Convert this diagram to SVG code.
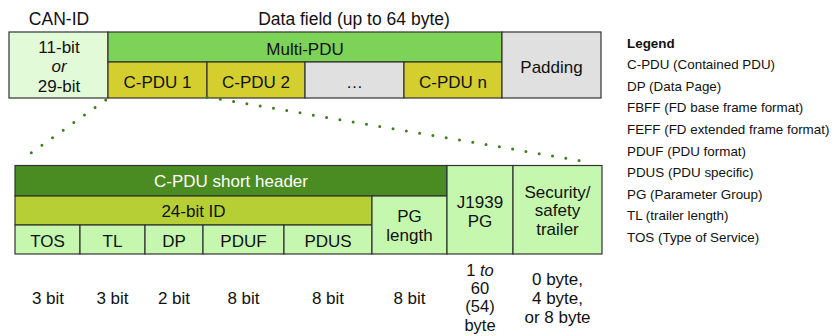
<svg xmlns="http://www.w3.org/2000/svg" width="839" height="336" viewBox="0 0 839 336">
<style>
text{font-family:"Liberation Sans",Arial,sans-serif;fill:#111}
.t{font-size:17px;text-anchor:middle}
.s{font-size:16.5px}
.lg{font-size:13.4px}
.b{stroke:#333;stroke-width:1.2}
.dot{fill:none;stroke:#3d7d1e;stroke-width:3;stroke-linecap:round}
</style>
<rect width="839" height="336" fill="#fff"/>
<g id="labels">
<text class="t" x="59" y="25" style="font-size:17.5px">CAN-ID</text>
<text class="t" x="354" y="25" style="font-size:17.5px">Data field (up to 64 byte)</text>
</g>
<g id="can-id"><rect class="b" x="9" y="32" width="99" height="66" fill="#e3fad9"/>
<text class="t" x="59" y="53">11-bit</text><text class="t" x="59" y="72" font-style="italic">or</text><text class="t" x="59" y="92">29-bit</text></g>
<g id="multi-pdu"><rect class="b" x="108" y="32" width="394" height="30" fill="#7dd258"/><text class="t" x="305" y="55">Multi-PDU</text></g>
<g id="cpdu1"><rect class="b" x="108" y="62" width="99" height="36" fill="#d4cf2f"/><text class="t" x="157.5" y="88">C-PDU 1</text></g>
<g id="cpdu2"><rect class="b" x="207" y="62" width="98" height="36" fill="#d4cf2f"/><text class="t" x="256" y="88">C-PDU 2</text></g>
<g id="ellipsis"><rect class="b" x="305" y="62" width="99" height="36" fill="#e0e0e0"/><text class="t" x="354.5" y="88">…</text></g>
<g id="cpdun"><rect class="b" x="404" y="62" width="98" height="36" fill="#d4cf2f"/><text class="t" x="453" y="88">C-PDU n</text></g>
<g id="padding"><rect class="b" x="502" y="32" width="99" height="66" fill="#e0e0e0"/><text class="t" x="551.5" y="73">Padding</text></g>

<g id="connectors">
<path class="dot" d="M105.7 100 L20.7 160.3" stroke-dasharray="0 13.03"/>
<path class="dot" d="M207 97 L592.3 162.7" stroke-dasharray="0 13.48"/>
</g>

<g id="short-header"><rect class="b" x="15" y="165.5" width="432" height="30.5" fill="#4a8b22"/><text class="t" x="231" y="187" style="fill:#fff">C-PDU short header</text></g>
<g id="id24"><rect class="b" x="15" y="196" width="357" height="29" fill="#b6cf34"/><text class="t" x="193.5" y="217">24-bit ID</text></g>
<g id="tos"><rect class="b" x="15" y="225" width="65" height="29" fill="#c5f7ae"/><text class="t" x="47.5" y="247">TOS</text></g>
<g id="tl"><rect class="b" x="80" y="225" width="65" height="29" fill="#c5f7ae"/><text class="t" x="112.5" y="247">TL</text></g>
<g id="dp"><rect class="b" x="145" y="225" width="58" height="29" fill="#c5f7ae"/><text class="t" x="174" y="247">DP</text></g>
<g id="pduf"><rect class="b" x="203" y="225" width="81" height="29" fill="#c5f7ae"/><text class="t" x="243.5" y="247">PDUF</text></g>
<g id="pdus"><rect class="b" x="284" y="225" width="88" height="29" fill="#c5f7ae"/><text class="t" x="328" y="247">PDUS</text></g>
<g id="pg-length"><rect class="b" x="372" y="196" width="75" height="58" fill="#c5f7ae"/><text class="t" x="409.5" y="222">PG</text><text class="t" x="409.5" y="241">length</text></g>
<g id="j1939"><rect class="b" x="447" y="165.5" width="66" height="88.5" fill="#c5f7ae"/><text class="t" x="480" y="208">J1939</text><text class="t" x="480" y="227">PG</text></g>
<g id="trailer"><rect class="b" x="513" y="165.5" width="89" height="88.5" fill="#c5f7ae"/><text class="t" x="557.5" y="198">Security/</text><text class="t" x="557.5" y="216">safety</text><text class="t" x="557.5" y="235">trailer</text></g>

<g id="sizes">
<text class="t" x="48" y="304">3 bit</text>
<text class="t" x="112.5" y="304">3 bit</text>
<text class="t" x="174" y="304">2 bit</text>
<text class="t" x="243.5" y="304">8 bit</text>
<text class="t" x="328" y="304">8 bit</text>
<text class="t" x="409.5" y="304">8 bit</text>
<text class="t s" x="480" y="276">1 <tspan font-style="italic">to</tspan></text>
<text class="t s" x="480" y="294">60</text>
<text class="t s" x="480" y="311.5">(54)</text>
<text class="t s" x="480" y="331">byte</text>
<text class="t" x="557.5" y="285">0 byte,</text>
<text class="t" x="557.5" y="304">4 byte,</text>
<text class="t" x="557.5" y="323">or 8 byte</text>
</g>

<g id="legend">
<text class="lg" x="627" y="47.5" font-weight="bold">Legend</text>
<text class="lg" x="627" y="69.1">C-PDU (Contained PDU)</text>
<text class="lg" x="627" y="90.7">DP (Data Page)</text>
<text class="lg" x="627" y="112.3">FBFF (FD base frame format)</text>
<text class="lg" x="627" y="133.9">FEFF (FD extended frame format)</text>
<text class="lg" x="627" y="155.5">PDUF (PDU format)</text>
<text class="lg" x="627" y="177.1">PDUS (PDU specific)</text>
<text class="lg" x="627" y="198.7">PG (Parameter Group)</text>
<text class="lg" x="627" y="220.3">TL (trailer length)</text>
<text class="lg" x="627" y="241.9">TOS (Type of Service)</text>
</g>
</svg>
